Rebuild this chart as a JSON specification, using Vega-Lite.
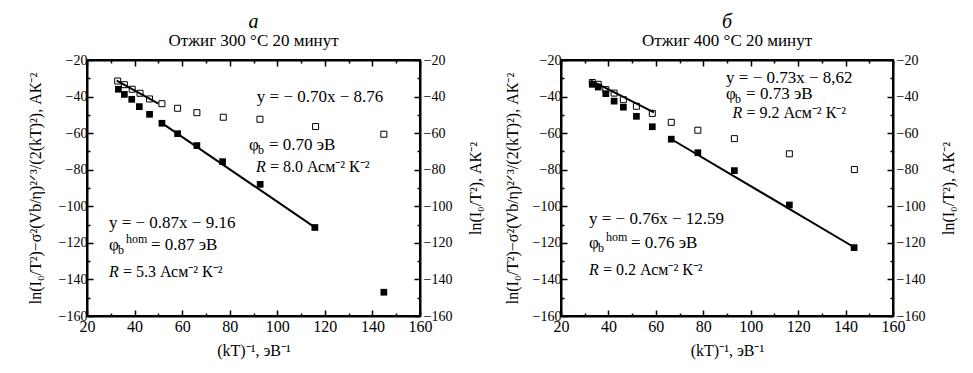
{
  "$schema": "https://vega.github.io/schema/vega-lite/v6.json",
  "background": "white",
  "padding": {"left": 26, "top": 11, "right": 5, "bottom": 5},
  "spacing": 18,
  "config": {
    "font": "Liberation Serif",
    "view": {"stroke": "black", "strokeWidth": 2},
    "axis": {
      "domainColor": "black", "domainWidth": 2, "tickColor": "black", "tickWidth": 1.5,
      "labelColor": "black", "labelFont": "Liberation Serif", "titleFont": "Liberation Serif",
      "titleFontWeight": "normal", "titleColor": "black", "grid": false, "labelFlush": false, "labelOverlap": false
    },
    "title": {
      "font": "Liberation Serif", "fontSize": 20, "fontStyle": "italic", "fontWeight": "normal", "color": "black",
      "subtitleFont": "Liberation Serif", "subtitleFontSize": 17, "subtitleColor": "black", "subtitlePadding": 1, "offset": 4
    }
  },
  "datasets": {
    "points": [
      {"panel": "a", "series": "filled", "x": 33.2, "y": -36.0},
      {"panel": "a", "series": "filled", "x": 35.7, "y": -38.8},
      {"panel": "a", "series": "filled", "x": 38.8, "y": -41.5},
      {"panel": "a", "series": "filled", "x": 42.0, "y": -45.5},
      {"panel": "a", "series": "filled", "x": 46.3, "y": -49.7},
      {"panel": "a", "series": "filled", "x": 51.5, "y": -54.6},
      {"panel": "a", "series": "filled", "x": 58.1, "y": -60.3},
      {"panel": "a", "series": "filled", "x": 66.2, "y": -66.8},
      {"panel": "a", "series": "filled", "x": 77.0, "y": -75.6},
      {"panel": "a", "series": "filled", "x": 92.8, "y": -88.0},
      {"panel": "a", "series": "filled", "x": 115.8, "y": -111.6},
      {"panel": "a", "series": "filled", "x": 144.8, "y": -147.0},
      {"panel": "a", "series": "open", "x": 32.9, "y": -31.5},
      {"panel": "a", "series": "open", "x": 35.7, "y": -33.5},
      {"panel": "a", "series": "open", "x": 39.0, "y": -36.0},
      {"panel": "a", "series": "open", "x": 42.3, "y": -38.2},
      {"panel": "a", "series": "open", "x": 46.3, "y": -41.3},
      {"panel": "a", "series": "open", "x": 51.5, "y": -43.9},
      {"panel": "a", "series": "open", "x": 58.1, "y": -46.4},
      {"panel": "a", "series": "open", "x": 66.2, "y": -48.8},
      {"panel": "a", "series": "open", "x": 77.3, "y": -51.3},
      {"panel": "a", "series": "open", "x": 92.7, "y": -52.4},
      {"panel": "a", "series": "open", "x": 116.1, "y": -56.4},
      {"panel": "a", "series": "open", "x": 144.8, "y": -60.6},
      {"panel": "b", "series": "filled", "x": 33.2, "y": -33.3},
      {"panel": "b", "series": "filled", "x": 35.7, "y": -34.8},
      {"panel": "b", "series": "filled", "x": 38.9, "y": -38.4},
      {"panel": "b", "series": "filled", "x": 42.4, "y": -42.5},
      {"panel": "b", "series": "filled", "x": 46.3, "y": -45.8},
      {"panel": "b", "series": "filled", "x": 51.8, "y": -50.8},
      {"panel": "b", "series": "filled", "x": 58.5, "y": -56.5},
      {"panel": "b", "series": "filled", "x": 66.5, "y": -63.3},
      {"panel": "b", "series": "filled", "x": 77.7, "y": -70.7},
      {"panel": "b", "series": "filled", "x": 93.1, "y": -80.5},
      {"panel": "b", "series": "filled", "x": 116.3, "y": -99.3},
      {"panel": "b", "series": "filled", "x": 143.6, "y": -122.6},
      {"panel": "b", "series": "open", "x": 33.2, "y": -32.3},
      {"panel": "b", "series": "open", "x": 35.7, "y": -33.3},
      {"panel": "b", "series": "open", "x": 38.9, "y": -36.2},
      {"panel": "b", "series": "open", "x": 42.4, "y": -38.1},
      {"panel": "b", "series": "open", "x": 46.3, "y": -41.7},
      {"panel": "b", "series": "open", "x": 51.8, "y": -45.3},
      {"panel": "b", "series": "open", "x": 58.5, "y": -49.2},
      {"panel": "b", "series": "open", "x": 66.5, "y": -54.1},
      {"panel": "b", "series": "open", "x": 77.7, "y": -58.4},
      {"panel": "b", "series": "open", "x": 93.1, "y": -63.0},
      {"panel": "b", "series": "open", "x": 116.3, "y": -71.3},
      {"panel": "b", "series": "open", "x": 143.7, "y": -79.9}
    ],
    "lines": [
      {"panel": "a", "fit": "open", "x": 32.5, "y": -31.3},
      {"panel": "a", "fit": "open", "x": 50.0, "y": -43.8},
      {"panel": "a", "fit": "filled", "x": 51.5, "y": -54.5},
      {"panel": "a", "fit": "filled", "x": 115.8, "y": -111.5},
      {"panel": "b", "fit": "open", "x": 32.5, "y": -31.1},
      {"panel": "b", "fit": "open", "x": 59.2, "y": -48.6},
      {"panel": "b", "fit": "filled", "x": 66.4, "y": -63.2},
      {"panel": "b", "fit": "filled", "x": 143.6, "y": -122.4}
    ],
    "eqs": [
      {"panel": "a", "x": 91.4, "y": -40.2, "text": "y = − 0.70x − 8.76"},
      {"panel": "a", "x": 29.2, "y": -109.0, "text": "y = − 0.87x − 9.16"},
      {"panel": "b", "x": 89.6, "y": -30.1, "text": "y = − 0.73x − 8,62"},
      {"panel": "b", "x": 31.8, "y": -107.0, "text": "y = − 0.76x − 12.59"}
    ],
    "rs": [
      {"panel": "a", "x": 91.0, "y": -78.5, "text": "= 8.0 Асм⁻² К⁻²"},
      {"panel": "a", "x": 29.2, "y": -135.7, "text": "= 5.3 Асм⁻² К⁻²"},
      {"panel": "b", "x": 92.3, "y": -49.2, "text": "= 9.2 Асм⁻² К⁻²"},
      {"panel": "b", "x": 31.8, "y": -134.7, "text": "= 0.2 Асм⁻² К⁻²"}
    ],
    "phis": [
      {"panel": "a", "hom": false, "x": 88.1, "y": -66.5, "text": "= 0.70 эВ"},
      {"panel": "a", "hom": true, "x": 29.2, "y": -121.0, "text": "= 0.87 эВ"},
      {"panel": "b", "hom": false, "x": 89.6, "y": -38.8, "text": "= 0.73 эВ"},
      {"panel": "b", "hom": true, "x": 31.8, "y": -120.2, "text": "= 0.76 эВ"}
    ]
  },
  "hconcat": [
    {
      "width": 333, "height": 256,
      "title": {"text": "а", "subtitle": "Отжиг 300 °C 20 минут", "frame": "group", "anchor": "middle"},
      "resolve": {"axis": {"x": "independent", "y": "independent"}},
      "layer": [
        {
          "data": {"name": "lines"},
          "transform": [{"filter": "datum.panel === 'a'"}],
          "mark": {"type": "line", "color": "black", "strokeWidth": 2},
          "encoding": {
            "x": {"field": "x", "type": "quantitative", "scale": {"domain": [20, 160], "nice": false, "zero": false},
              "axis": {"orient": "bottom", "values": [20, 30, 40, 50, 60, 70, 80, 90, 100, 110, 120, 130, 140, 150, 160],
                "labelExpr": "datum.value % 20 === 0 ? datum.label : ''",
                "tickSize": {"condition": {"test": "datum.value % 20 === 0", "value": -6}, "value": -3},
                "labelFontSize": 16, "labelPadding": 8, "title": "(kT)⁻¹, эВ⁻¹", "titleFontSize": 16, "titlePadding": 5}},
            "y": {"field": "y", "type": "quantitative", "scale": {"domain": [-160, -20], "nice": false, "zero": false},
              "axis": {"orient": "left", "values": [-160, -150, -140, -130, -120, -110, -100, -90, -80, -70, -60, -50, -40, -30, -20],
                "labelExpr": "datum.value % 20 === 0 ? datum.label : ''",
                "tickSize": {"condition": {"test": "datum.value % 20 === 0", "value": -6}, "value": -3},
                "labelFontSize": 14, "labelPadding": 6,
                "title": "ln(I₀/T²)−σ²(Vb/η)²ᐟ³/(2(kT)²), АК⁻²", "titleFontSize": 16, "titlePadding": 15}},
            "detail": {"field": "fit"}
          }
        },
        {
          "data": {"name": "points"},
          "transform": [{"filter": "datum.panel === 'a' && datum.series === 'open'"}],
          "mark": {"type": "point", "shape": "square", "filled": false, "color": "black", "strokeWidth": 1, "size": 36, "opacity": 1},
          "encoding": {
            "x": {"field": "x", "type": "quantitative", "scale": {"domain": [20, 160], "nice": false, "zero": false},
              "axis": {"orient": "top", "values": [20, 30, 40, 50, 60, 70, 80, 90, 100, 110, 120, 130, 140, 150, 160],
                "labels": false, "title": null,
                "tickSize": {"condition": {"test": "datum.value % 20 === 0", "value": -6}, "value": -3}}},
            "y": {"field": "y", "type": "quantitative", "scale": {"domain": [-160, -20], "nice": false, "zero": false},
              "axis": {"orient": "right", "values": [-160, -150, -140, -130, -120, -110, -100, -90, -80, -70, -60, -50, -40, -30, -20],
                "labelExpr": "datum.value % 20 === 0 ? datum.label : ''",
                "tickSize": {"condition": {"test": "datum.value % 20 === 0", "value": -6}, "value": -3},
                "labelFontSize": 14, "labelPadding": 9,
                "title": "ln(I₀/T²), АК⁻²", "titleFontSize": 16, "titlePadding": 16, "titleAngle": 270, "titleBaseline": "top"}}
          }
        },
        {
          "data": {"name": "points"},
          "transform": [{"filter": "datum.panel === 'a' && datum.series === 'filled'"}],
          "mark": {"type": "square", "color": "black", "size": 45, "opacity": 1},
          "encoding": {
            "x": {"field": "x", "type": "quantitative", "axis": null},
            "y": {"field": "y", "type": "quantitative", "axis": null}
          }
        },
        {
          "data": {"name": "eqs"},
          "transform": [{"filter": "datum.panel === 'a'"}],
          "mark": {"type": "text", "align": "left", "baseline": "middle", "fontSize": 17, "color": "black"},
          "encoding": {
            "x": {"field": "x", "type": "quantitative", "axis": null},
            "y": {"field": "y", "type": "quantitative", "axis": null},
            "text": {"field": "text"}
          }
        },
        {
          "data": {"name": "rs"},
          "transform": [{"filter": "datum.panel === 'a'"}],
          "mark": {"type": "text", "align": "left", "baseline": "middle", "fontSize": 16, "fontStyle": "italic", "color": "black"},
          "encoding": {
            "x": {"field": "x", "type": "quantitative", "axis": null},
            "y": {"field": "y", "type": "quantitative", "axis": null},
            "text": {"value": "R"}
          }
        },
        {
          "data": {"name": "rs"},
          "transform": [{"filter": "datum.panel === 'a'"}],
          "mark": {"type": "text", "align": "left", "baseline": "middle", "fontSize": 16, "dx": 14, "color": "black"},
          "encoding": {
            "x": {"field": "x", "type": "quantitative", "axis": null},
            "y": {"field": "y", "type": "quantitative", "axis": null},
            "text": {"field": "text"}
          }
        },
        {
          "data": {"name": "phis"},
          "transform": [{"filter": "datum.panel === 'a'"}],
          "mark": {"type": "text", "align": "left", "baseline": "middle", "fontSize": 17, "color": "black"},
          "encoding": {
            "x": {"field": "x", "type": "quantitative", "axis": null},
            "y": {"field": "y", "type": "quantitative", "axis": null},
            "text": {"value": "φ"}
          }
        },
        {
          "data": {"name": "phis"},
          "transform": [{"filter": "datum.panel === 'a'"}],
          "mark": {"type": "text", "align": "left", "baseline": "middle", "fontSize": 12, "dx": 9, "dy": 5, "color": "black"},
          "encoding": {
            "x": {"field": "x", "type": "quantitative", "axis": null},
            "y": {"field": "y", "type": "quantitative", "axis": null},
            "text": {"value": "b"}
          }
        },
        {
          "data": {"name": "phis"},
          "transform": [{"filter": "datum.panel === 'a' && datum.hom"}],
          "mark": {"type": "text", "align": "left", "baseline": "middle", "fontSize": 12, "dx": 17, "dy": -6, "color": "black"},
          "encoding": {
            "x": {"field": "x", "type": "quantitative", "axis": null},
            "y": {"field": "y", "type": "quantitative", "axis": null},
            "text": {"value": "hom"}
          }
        },
        {
          "data": {"name": "phis"},
          "transform": [{"filter": "datum.panel === 'a' && !datum.hom"}],
          "mark": {"type": "text", "align": "left", "baseline": "middle", "fontSize": 17, "dx": 20, "color": "black"},
          "encoding": {
            "x": {"field": "x", "type": "quantitative", "axis": null},
            "y": {"field": "y", "type": "quantitative", "axis": null},
            "text": {"field": "text"}
          }
        },
        {
          "data": {"name": "phis"},
          "transform": [{"filter": "datum.panel === 'a' && datum.hom"}],
          "mark": {"type": "text", "align": "left", "baseline": "middle", "fontSize": 17, "dx": 42, "color": "black"},
          "encoding": {
            "x": {"field": "x", "type": "quantitative", "axis": null},
            "y": {"field": "y", "type": "quantitative", "axis": null},
            "text": {"field": "text"}
          }
        }
      ]
    },
    {
      "width": 332, "height": 256,
      "title": {"text": "б", "subtitle": "Отжиг 400 °C 20 минут", "frame": "group", "anchor": "middle"},
      "resolve": {"axis": {"x": "independent", "y": "independent"}},
      "layer": [
        {
          "data": {"name": "lines"},
          "transform": [{"filter": "datum.panel === 'b'"}],
          "mark": {"type": "line", "color": "black", "strokeWidth": 2},
          "encoding": {
            "x": {"field": "x", "type": "quantitative", "scale": {"domain": [20, 160], "nice": false, "zero": false},
              "axis": {"orient": "bottom", "values": [20, 30, 40, 50, 60, 70, 80, 90, 100, 110, 120, 130, 140, 150, 160],
                "labelExpr": "datum.value % 20 === 0 ? datum.label : ''",
                "tickSize": {"condition": {"test": "datum.value % 20 === 0", "value": -6}, "value": -3},
                "labelFontSize": 16, "labelPadding": 8, "title": "(kT)⁻¹, эВ⁻¹", "titleFontSize": 16, "titlePadding": 5}},
            "y": {"field": "y", "type": "quantitative", "scale": {"domain": [-160, -20], "nice": false, "zero": false},
              "axis": {"orient": "left", "values": [-160, -150, -140, -130, -120, -110, -100, -90, -80, -70, -60, -50, -40, -30, -20],
                "labelExpr": "datum.value % 20 === 0 ? datum.label : ''",
                "tickSize": {"condition": {"test": "datum.value % 20 === 0", "value": -6}, "value": -3},
                "labelFontSize": 14, "labelPadding": 6,
                "title": "ln(I₀/T²)−σ²(Vb/η)²ᐟ³/(2(kT)²), АК⁻²", "titleFontSize": 16, "titlePadding": 12}},
            "detail": {"field": "fit"}
          }
        },
        {
          "data": {"name": "points"},
          "transform": [{"filter": "datum.panel === 'b' && datum.series === 'open'"}],
          "mark": {"type": "point", "shape": "square", "filled": false, "color": "black", "strokeWidth": 1, "size": 36, "opacity": 1},
          "encoding": {
            "x": {"field": "x", "type": "quantitative", "scale": {"domain": [20, 160], "nice": false, "zero": false},
              "axis": {"orient": "top", "values": [20, 30, 40, 50, 60, 70, 80, 90, 100, 110, 120, 130, 140, 150, 160],
                "labels": false, "title": null,
                "tickSize": {"condition": {"test": "datum.value % 20 === 0", "value": -6}, "value": -3}}},
            "y": {"field": "y", "type": "quantitative", "scale": {"domain": [-160, -20], "nice": false, "zero": false},
              "axis": {"orient": "right", "values": [-160, -150, -140, -130, -120, -110, -100, -90, -80, -70, -60, -50, -40, -30, -20],
                "labelExpr": "datum.value % 20 === 0 ? datum.label : ''",
                "tickSize": {"condition": {"test": "datum.value % 20 === 0", "value": -6}, "value": -3},
                "labelFontSize": 14, "labelPadding": 9,
                "title": "ln(I₀/T²), АК⁻²", "titleFontSize": 16, "titlePadding": 16, "titleAngle": 270, "titleBaseline": "top"}}
          }
        },
        {
          "data": {"name": "points"},
          "transform": [{"filter": "datum.panel === 'b' && datum.series === 'filled'"}],
          "mark": {"type": "square", "color": "black", "size": 45, "opacity": 1},
          "encoding": {
            "x": {"field": "x", "type": "quantitative", "axis": null},
            "y": {"field": "y", "type": "quantitative", "axis": null}
          }
        },
        {
          "data": {"name": "eqs"},
          "transform": [{"filter": "datum.panel === 'b'"}],
          "mark": {"type": "text", "align": "left", "baseline": "middle", "fontSize": 17, "color": "black"},
          "encoding": {
            "x": {"field": "x", "type": "quantitative", "axis": null},
            "y": {"field": "y", "type": "quantitative", "axis": null},
            "text": {"field": "text"}
          }
        },
        {
          "data": {"name": "rs"},
          "transform": [{"filter": "datum.panel === 'b'"}],
          "mark": {"type": "text", "align": "left", "baseline": "middle", "fontSize": 16, "fontStyle": "italic", "color": "black"},
          "encoding": {
            "x": {"field": "x", "type": "quantitative", "axis": null},
            "y": {"field": "y", "type": "quantitative", "axis": null},
            "text": {"value": "R"}
          }
        },
        {
          "data": {"name": "rs"},
          "transform": [{"filter": "datum.panel === 'b'"}],
          "mark": {"type": "text", "align": "left", "baseline": "middle", "fontSize": 16, "dx": 14, "color": "black"},
          "encoding": {
            "x": {"field": "x", "type": "quantitative", "axis": null},
            "y": {"field": "y", "type": "quantitative", "axis": null},
            "text": {"field": "text"}
          }
        },
        {
          "data": {"name": "phis"},
          "transform": [{"filter": "datum.panel === 'b'"}],
          "mark": {"type": "text", "align": "left", "baseline": "middle", "fontSize": 17, "color": "black"},
          "encoding": {
            "x": {"field": "x", "type": "quantitative", "axis": null},
            "y": {"field": "y", "type": "quantitative", "axis": null},
            "text": {"value": "φ"}
          }
        },
        {
          "data": {"name": "phis"},
          "transform": [{"filter": "datum.panel === 'b'"}],
          "mark": {"type": "text", "align": "left", "baseline": "middle", "fontSize": 12, "dx": 9, "dy": 5, "color": "black"},
          "encoding": {
            "x": {"field": "x", "type": "quantitative", "axis": null},
            "y": {"field": "y", "type": "quantitative", "axis": null},
            "text": {"value": "b"}
          }
        },
        {
          "data": {"name": "phis"},
          "transform": [{"filter": "datum.panel === 'b' && datum.hom"}],
          "mark": {"type": "text", "align": "left", "baseline": "middle", "fontSize": 12, "dx": 17, "dy": -6, "color": "black"},
          "encoding": {
            "x": {"field": "x", "type": "quantitative", "axis": null},
            "y": {"field": "y", "type": "quantitative", "axis": null},
            "text": {"value": "hom"}
          }
        },
        {
          "data": {"name": "phis"},
          "transform": [{"filter": "datum.panel === 'b' && !datum.hom"}],
          "mark": {"type": "text", "align": "left", "baseline": "middle", "fontSize": 17, "dx": 20, "color": "black"},
          "encoding": {
            "x": {"field": "x", "type": "quantitative", "axis": null},
            "y": {"field": "y", "type": "quantitative", "axis": null},
            "text": {"field": "text"}
          }
        },
        {
          "data": {"name": "phis"},
          "transform": [{"filter": "datum.panel === 'b' && datum.hom"}],
          "mark": {"type": "text", "align": "left", "baseline": "middle", "fontSize": 17, "dx": 42, "color": "black"},
          "encoding": {
            "x": {"field": "x", "type": "quantitative", "axis": null},
            "y": {"field": "y", "type": "quantitative", "axis": null},
            "text": {"field": "text"}
          }
        }
      ]
    }
  ]
}
